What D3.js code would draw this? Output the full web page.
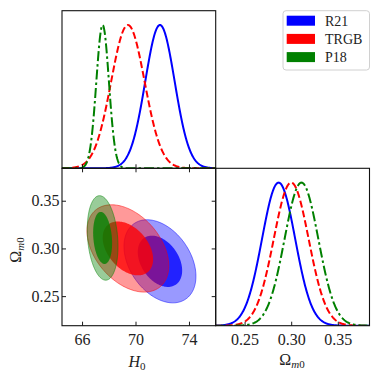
<!DOCTYPE html>
<html><head><meta charset="utf-8">
<script src="https://cdn.jsdelivr.net/npm/d3@7/dist/d3.min.js"></script>
<style>html,body{margin:0;padding:0;background:#fff}svg{display:block}</style>
</head><body>
<svg id="c" width="380" height="380"></svg>
<script>
// ---- data ----
const series   = ["R21", "TRGB", "P18"];
const colors   = ["#0000ff", "#ff0000", "#008000"];
const h0Mean   = [71.83, 69.43, 67.54];
const h0Sigma  = [1.10, 1.25, 0.47];
const omMean   = [0.2865, 0.3000, 0.3110];
const omSigma  = [0.0178, 0.0187, 0.0181];
const rho      = [-0.36, -0.40, -0.20];
const levels   = [0.95, 0.68];            // probability mass of filled 2D contours
const h0Ticks  = [66, 70, 74];
const h0TickLabels = ["66", "70", "74"];
const omTicks  = [0.25, 0.30, 0.35];
const omTickLabels = ["0.25", "0.30", "0.35"];
const h0Domain = [64.5, 76];
const omDomain = [0.219, 0.384];

// ---- layout ----
const svg = d3.select("#c");
const L = 62, M = 215.7, R = 369.5, T = 10.7, MY = 168.3, B = 325.7;
const FONT = "'Liberation Serif', 'Times New Roman', serif";
const dashes = [null, "7,3", "10,3,2.5,3"];

const xH  = d3.scaleLinear(h0Domain, [L, M]);
const yOm = d3.scaleLinear(omDomain, [B, MY]);
const xOm = d3.scaleLinear(omDomain, [M, R]);
const yTop = d3.scaleLinear([0, 1.1], [MY, T]);
const yBR  = d3.scaleLinear([0, 1.1], [B, MY]);

const defs = svg.append("defs");
function clip(id, x, y, w, h) {
  defs.append("clipPath").attr("id", id).append("rect").attr("x", x).attr("y", y).attr("width", w).attr("height", h);
}
clip("cTL", L, T, M - L, MY - T);
clip("cBL", L, MY, M - L, B - MY);
clip("cBR", M, MY, R - M, B - MY);

const gauss = (x, m, s) => Math.exp(-0.5 * ((x - m) / s) ** 2);
function samples(dom, n) { return d3.range(n + 1).map(i => dom[0] + (dom[1] - dom[0]) * i / n); }

// ---- 2D contours ----
const gBL = svg.append("g").attr("clip-path", "url(#cBL)");
const ellLine = d3.line().x(d => xH(d[0])).y(d => yOm(d[1])).curve(d3.curveLinearClosed);
series.forEach((s, i) => {
  levels.forEach((p, j) => {
    const k = Math.sqrt(-2 * Math.log(1 - p));
    const pts = d3.range(200).map(t => {
      const a = 2 * Math.PI * t / 200;
      return [h0Mean[i] + k * h0Sigma[i] * Math.cos(a),
              omMean[i] + k * omSigma[i] * (rho[i] * Math.cos(a) + Math.sqrt(1 - rho[i] ** 2) * Math.sin(a))];
    });
    gBL.append("path").attr("d", ellLine(pts))
      .attr("fill", colors[i]).attr("fill-opacity", j === 0 ? 0.4 : 0.78)
      .attr("stroke", j === 0 ? colors[i] : "none").attr("stroke-opacity", 0.55).attr("stroke-width", 0.9);
  });
});

// ---- 1D marginals ----
const gTL = svg.append("g").attr("clip-path", "url(#cTL)");
const gBR = svg.append("g").attr("clip-path", "url(#cBR)");
const hx = samples(h0Domain, 400), ox = samples(omDomain, 400);
series.forEach((s, i) => {
  gTL.append("path")
    .attr("d", d3.line().x(d => xH(d)).y(d => yTop(gauss(d, h0Mean[i], h0Sigma[i])))(hx))
    .attr("fill", "none").attr("stroke", colors[i]).attr("stroke-width", 2)
    .attr("stroke-dasharray", dashes[i]);
  gBR.append("path")
    .attr("d", d3.line().x(d => xOm(d)).y(d => yBR(gauss(d, omMean[i], omSigma[i])))(ox))
    .attr("fill", "none").attr("stroke", colors[i]).attr("stroke-width", 2)
    .attr("stroke-dasharray", dashes[i]);
});

// ---- axes / ticks ----
function styleAxis(g, labels) {
  g.select(".domain").remove();
  g.selectAll(".tick line").attr("stroke", "#000").attr("stroke-width", 0.9);
  g.selectAll(".tick text").attr("font-family", FONT).attr("font-size", 16).attr("fill", "#222");
  if (!labels) g.selectAll(".tick text").remove();
}
const TS = -4;
// top-left bottom ticks
styleAxis(svg.append("g").attr("transform", `translate(0,${MY})`)
  .call(d3.axisBottom(xH).tickValues(h0Ticks).tickSize(TS)), false);
// bottom-left: bottom (labels), top, left (labels), right
styleAxis(svg.append("g").attr("transform", `translate(0,${B})`)
  .call(d3.axisBottom(xH).tickValues(h0Ticks).tickSize(TS).tickPadding(8)
    .tickFormat((d, i) => h0TickLabels[i])), true);
styleAxis(svg.append("g").attr("transform", `translate(0,${MY})`)
  .call(d3.axisTop(xH).tickValues(h0Ticks).tickSize(TS)), false);
styleAxis(svg.append("g").attr("transform", `translate(${L},0)`)
  .call(d3.axisLeft(yOm).tickValues(omTicks).tickSize(TS).tickPadding(2.5)
    .tickFormat((d, i) => omTickLabels[i])), true);
styleAxis(svg.append("g").attr("transform", `translate(${M},0)`)
  .call(d3.axisRight(yOm).tickValues(omTicks).tickSize(TS)), false);
// bottom-right bottom ticks
styleAxis(svg.append("g").attr("transform", `translate(0,${B})`)
  .call(d3.axisBottom(xOm).tickValues(omTicks).tickSize(TS).tickPadding(8)
    .tickFormat((d, i) => omTickLabels[i])), true);

// ---- frames ----
[[L, T, M - L, MY - T], [L, MY, M - L, B - MY], [M, MY, R - M, B - MY]].forEach(r => {
  svg.append("rect").attr("x", r[0]).attr("y", r[1]).attr("width", r[2]).attr("height", r[3])
    .attr("fill", "none").attr("stroke", "#111").attr("stroke-width", 1.1);
});

// ---- axis labels ----
const h0Lab = svg.append("text").attr("x", 137).attr("y", 366.5).attr("text-anchor", "middle")
  .attr("font-family", FONT).attr("font-size", 16).attr("fill", "#222");
h0Lab.append("tspan").attr("font-style", "italic").text("H");
h0Lab.append("tspan").attr("font-size", 11).attr("dy", 3).text("0");

function omegaLabel(g) {
  g.append("tspan").text("Ω");
  g.append("tspan").attr("font-size", 11).attr("dy", 3).attr("font-style", "italic").text("m");
  g.append("tspan").attr("font-size", 11).text("0");
}
omegaLabel(svg.append("text").attr("x", 292).attr("y", 365).attr("text-anchor", "middle")
  .attr("font-family", FONT).attr("font-size", 16).attr("fill", "#222"));
omegaLabel(svg.append("text").attr("transform", "translate(20.5,250) rotate(-90)").attr("text-anchor", "middle")
  .attr("font-family", FONT).attr("font-size", 16).attr("fill", "#222"));

// ---- legend ----
const lg = svg.append("g");
lg.append("rect").attr("x", 283).attr("y", 10.7).attr("width", 86.5).attr("height", 59.3)
  .attr("rx", 3).attr("fill", "#fff").attr("fill-opacity", 0.85).attr("stroke", "#d0d0d0").attr("stroke-width", 1);
series.forEach((s, i) => {
  const cy = 20.7 + i * 18.2;
  lg.append("rect").attr("x", 286.7).attr("y", cy - 5).attr("width", 28.3).attr("height", 10).attr("fill", colors[i]);
  lg.append("text").attr("x", 325).attr("y", cy + 5).attr("font-family", FONT).attr("font-size", 14)
    .attr("fill", "#222").text(s);
});
</script>
</body></html>
